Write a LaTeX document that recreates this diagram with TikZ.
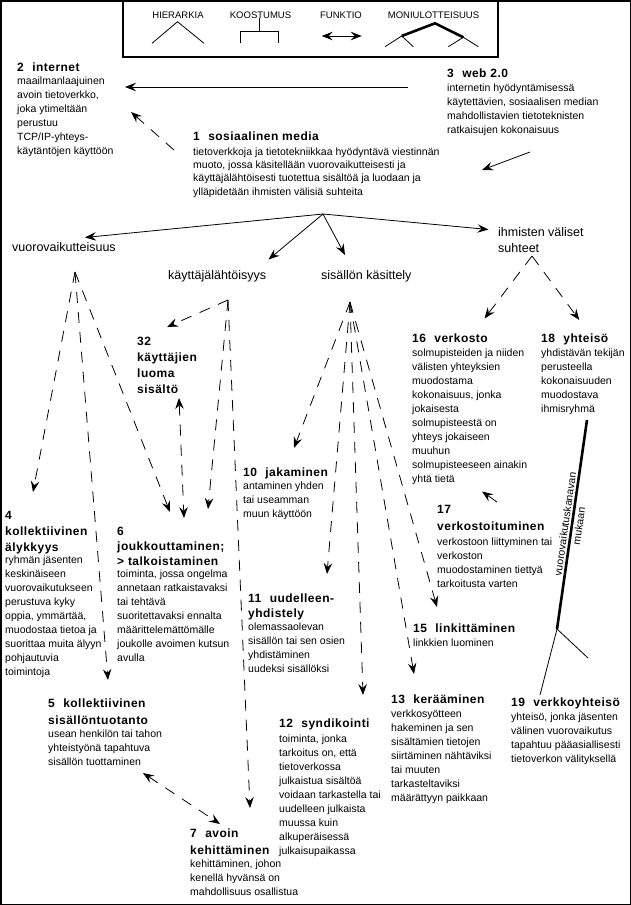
\documentclass[tikz,border=0pt]{standalone}
\usepackage{fontspec}
\setmainfont{Liberation Sans}
\newfontfamily\ttlfont[LetterSpace=4]{Liberation Sans}
\usetikzlibrary{arrows.meta}
\newcommand{\tr}{\rule{0pt}{10pt}}
\newcommand{\trc}{\rule{0pt}{11pt}}
\newcommand{\gp}{\hspace{0.7em}}
\tikzset{
  >={Stealth[length=11pt,width=8.5pt,inset=4pt]},
  ttl/.style={anchor=north west, inner sep=0pt, align=left, font=\ttlfont\bfseries\fontsize{12}{#1}\selectfont},
  ttl/.default=16,
  bdy/.style={anchor=north west, inner sep=0pt, align=left, font=\fontsize{10.5}{#1}\selectfont},
  bdy/.default=14,
  cat/.style={anchor=north west, inner sep=0pt, align=left, font=\fontsize{12.5}{16.7}\selectfont},
  leg/.style={inner sep=0pt, font=\fontsize{9.5}{11}\selectfont},
  arr/.style={->, line width=0.8pt},
  dsh/.style={line width=0.8pt, dash pattern=on 11pt off 9pt},
  thin/.style={line width=0.8pt},
}
\begin{document}
\begin{tikzpicture}[x=1pt,y=-1pt]
\useasboundingbox (0,0) rectangle (631,905);
\draw[line width=1.5pt] (0.75,0.75) rectangle (630.25,904.25);

% legend
\draw[line width=1.3pt] (123,1.5) rectangle (498,57);
\node[leg] (lh) at (178,15) {HIERARKIA};
\node[leg] (lk) at (260.5,15) {KOOSTUMUS};
\node[leg] (lf) at (341,15) {FUNKTIO};
\node[leg] (lm) at (433.5,15) {MONIULOTTEISUUS};
\draw[thin] (152,43.3) -- (177.5,21.7) -- (204,43.3);
\draw[thin] (259.3,18) -- (259.3,31.7);
\draw[thin] (240.7,43.3) -- (240.7,31.7) -- (278,31.7) -- (278,43.3);
\draw[thin,<->] (321.7,36) -- (361.7,36);
\draw[line width=2.6pt] (401.7,36) -- (435,23.3) -- (463.3,37.3);
\draw[thin] (385,46.7) -- (401.7,36) -- (413.3,46.7);
\draw[thin] (448.3,46.7) -- (463.3,37.3) -- (478.3,46.7);

% titles and bodies
\node[ttl] (t2) at (17,60.8) {\tr 2\gp internet};
\node[bdy] (b2) at (17,74.3) {\tr maailmanlaajuinen\\avoin tietoverkko,\\joka ytimeltään\\perustuu\\TCP/IP-yhteys-\\käytäntöjen käyttöön};

\node[ttl] (t3) at (447,67.1) {\tr 3\gp web 2.0};
\node[bdy] (b3) at (447,81.6) {\tr internetin hyödyntämisessä\\käytettävien, sosiaalisen median\\mahdollistavien tietoteknisten\\ratkaisujen kokonaisuus};

\node[ttl] (t1) at (193,129.8) {\tr 1\gp sosiaalinen media};
\node[bdy=13.2] (b1) at (193,145.3) {\tr tietoverkkoja ja tietotekniikkaa hyödyntävä viestinnän\\muoto, jossa käsitellään vuorovaikutteisesti ja\\käyttäjälähtöisesti tuotettua sisältöä ja luodaan ja\\ylläpidetään ihmisten välisiä suhteita};

\node[cat] (cv) at (12,240.2) {\trc vuorovaikutteisuus};
\node[cat] (ck) at (168,268.2) {\trc käyttäjälähtöisyys};
\node[cat] (cs) at (321,268.2) {\trc sisällön käsittely};
\node[cat] (ci) at (498,224.9) {\trc ihmisten väliset\\suhteet};

\node[ttl] (t32) at (137,335.5) {\tr 32\\käyttäjien\\luoma\\sisältö};

\node[ttl] (t16) at (412,331.8) {\tr 16\gp verkosto};
\node[bdy] (b16) at (412,346) {\tr solmupisteiden ja niiden\\välisten yhteyksien\\muodostama\\kokonaisuus, jonka\\jokaisesta\\solmupisteestä on\\yhteys jokaiseen\\muuhun\\solmupisteeseen ainakin\\yhtä tietä};

\node[ttl] (t18) at (541,331.8) {\tr 18\gp yhteisö};
\node[bdy] (b18) at (541,346) {\tr yhdistävän tekijän\\perusteella\\kokonaisuuden\\muodostava\\ihmisryhmä};

\node[ttl] (t10) at (243,465.8) {\tr 10\gp jakaminen};
\node[bdy] (b10) at (243,479.3) {\tr antaminen yhden\\tai useamman\\muun käyttöön};

\node[ttl=17] (t17) at (437,503.1) {\tr 17\\verkostoituminen};
\node[bdy] (b17) at (437,535) {\tr verkostoon liittyminen tai\\verkoston\\muodostaminen tiettyä\\tarkoitusta varten};

\node[ttl=16] (t4) at (5,508.8) {\tr 4\\kollektiivinen\\älykkyys};
\node[bdy] (b4) at (5,553.3) {\tr ryhmän jäsenten\\keskinäiseen\\vuorovaikutukseen\\perustuva kyky\\oppia, ymmärtää,\\muodostaa tietoa ja\\suorittaa muita älyyn\\pohjautuvia\\toimintoja};

\node[ttl=15] (t6) at (117,525.5) {\tr 6\\joukkouttaminen;\\> talkoistaminen};
\node[bdy] (b6) at (117,567.6) {\tr toiminta, jossa ongelma\\annetaan ratkaistavaksi\\tai tehtävä\\suoritettavaksi ennalta\\määrittelemättömälle\\joukolle avoimen kutsun\\avulla};

\node[ttl=15] (t11) at (248,592.1) {\tr 11\gp uudelleen-\\yhdistely};
\node[bdy] (b11) at (248,620) {\tr olemassaolevan\\sisällön tai sen osien\\yhdistäminen\\uudeksi sisällöksi};

\node[ttl] (t15) at (413,622.1) {\tr 15\gp linkittäminen};
\node[bdy] (b15) at (413,636.6) {\tr linkkien luominen};

\node[ttl=16.7] (t5) at (48,697.1) {\tr 5\gp kollektiivinen\\sisällöntuotanto};
\node[bdy] (b5) at (48,727.3) {\tr usean henkilön tai tahon\\yhteistyönä tapahtuva\\sisällön tuottaminen};

\node[ttl] (t12) at (279,717.1) {\tr 12\gp syndikointi};
\node[bdy] (b12) at (279,732.3) {\tr toiminta, jonka\\tarkoitus on, että\\tietoverkossa\\julkaistua sisältöä\\voidaan tarkastella tai\\uudelleen julkaista\\muussa kuin\\alkuperäisessä\\julkaisupaikassa};

\node[ttl] (t13) at (391,693.1) {\tr 13\gp kerääminen};
\node[bdy] (b13) at (391,707.3) {\tr verkkosyötteen\\hakeminen ja sen\\sisältämien tietojen\\siirtäminen nähtäviksi\\tai muuten\\tarkasteltaviksi\\määrättyyn paikkaan};

\node[ttl] (t19) at (511,696.5) {\tr 19\gp verkkoyhteisö};
\node[bdy] (b19) at (511,710.3) {\tr yhteisö, jonka jäsenten\\välinen vuorovaikutus\\tapahtuu pääasiallisesti\\tietoverkon välityksellä};

\node[ttl=16.7] (t7) at (190,827.1) {\tr 7\gp avoin\\kehittäminen};
\node[bdy] (b7) at (190,857.3) {\tr kehittäminen, johon\\kenellä hyvänsä on\\mahdollisuus osallistua};

% connector end points
\coordinate (w3a) at (408,87);   \coordinate (w2a) at (125,87);
\coordinate (w3b) at (530,152);  \coordinate (w1b) at (482,170);
\coordinate (s1a) at (174,150);  \coordinate (s2a) at (131,112);
\coordinate (hub) at (323,214);
\coordinate (hv) at (85,237.5);
\coordinate (hk) at (268.5,259.5);
\coordinate (hs) at (345,255);
\coordinate (hi) at (488.5,229.5);
\coordinate (v0) at (75,272);
\coordinate (v4) at (33,492);
\coordinate (v5) at (108,680);
\coordinate (v6) at (170,512);
\coordinate (k0) at (228,300);
\coordinate (k32) at (167,327);
\coordinate (k6) at (208,509);
\coordinate (k7) at (250,808);
\coordinate (p32) at (179,398);
\coordinate (p6) at (184,518);
\coordinate (s0) at (350,302);
\coordinate (s10) at (294,448);
\coordinate (s11) at (327,574);
\coordinate (s12) at (363,695);
\coordinate (s13) at (414,674);
\coordinate (s15) at (437,607);
\coordinate (i0) at (532,256);
\coordinate (i16) at (484.5,318.5);
\coordinate (i18) at (579.3,320);
\coordinate (n17) at (497,502);
\coordinate (n16) at (482,491.5);
\coordinate (c5) at (143,773);
\coordinate (c7) at (220,824);
\coordinate (mtop) at (587,420);
\coordinate (mbot) at (557,629);
\coordinate (mr) at (588,658);
\coordinate (m19) at (540,695);

% solid connectors
\draw[arr] (w3a) -- (w2a);
\draw[arr] (w3b) -- (w1b);
\draw[arr] (hub) -- (hv);
\draw[arr] (hub) -- (hk);
\draw[arr] (hub) -- (hs);
\draw[arr] (hub) -- (hi);
\draw[arr] (n17) -- (n16);

% dashed connectors
\draw[dsh,->] (s1a) -- (s2a);
\draw[dsh,->] (v0) -- (v4);
\draw[dsh,->] (v0) -- (v5);
\draw[dsh,->] (v0) -- (v6);
\draw[dsh,->] (k0) -- (k32);
\draw[dsh,->] (k0) -- (k6);
\draw[dsh,->] (k0) -- (k7);
\draw[dsh,<->] (p32) -- (p6);
\draw[dsh,->] (s0) -- (s10);
\draw[dsh,->] (s0) -- (s11);
\draw[dsh,->] (s0) -- (s12);
\draw[dsh,->] (s0) -- (s13);
\draw[dsh,->] (s0) -- (s15);
\draw[dsh,->] (i0) -- (i16);
\draw[dsh,->] (i0) -- (i18);
\draw[dsh,<->] (c5) -- (c7);

% multidimensional link
\draw[line width=2.6pt] (mtop) -- (mbot);
\draw[thin] (mbot) -- (mr);
\draw[thin] (mbot) -- (m19);
\node[bdy, anchor=center, align=center, rotate=81.8] (mlab) at (572,525) {vuorovaikutuskanavan\\mukaan};
\end{tikzpicture}
\end{document}
